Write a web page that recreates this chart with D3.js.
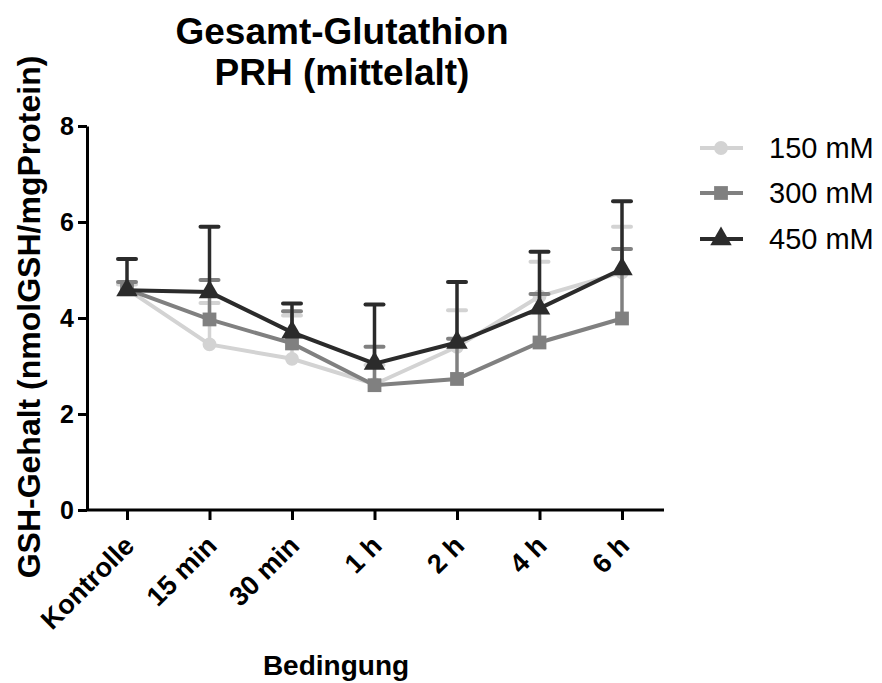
<!DOCTYPE html>
<html>
<head>
<meta charset="utf-8">
<script src="https://cdn.jsdelivr.net/npm/d3@7"></script>
<style>
  body { margin: 0; background: #fff; }
  svg { font-family: "Liberation Sans", Arial, sans-serif; }
</style>
</head>
<body>
<script>
// Gesamt-Glutathion, PRH (mittelalt)
const conditions = ["Kontrolle", "15 min", "30 min", "1 h", "2 h", "4 h", "6 h"];
const yTicks = [0, 2, 4, 6, 8];

const series = ["150 mM", "300 mM", "450 mM"];
const mean150 = [4.60, 3.45, 3.15, 2.62, 3.40, 4.45, 4.95];
const sd150   = [0.10, 0.86, 0.90, 0.40, 0.76, 0.72, 0.95];
const mean300 = [4.60, 3.97, 3.47, 2.60, 2.73, 3.49, 3.99];
const sd300   = [0.15, 0.82, 0.67, 0.80, 0.84, 1.01, 1.45];
const mean450 = [4.58, 4.54, 3.70, 3.05, 3.49, 4.20, 5.02];
const sd450   = [0.65, 1.36, 0.60, 1.23, 1.26, 1.18, 1.41];

const colors = ["#d3d3d3", "#808080", "#2b2b2b"];
const symbols = [d3.symbolCircle, d3.symbolSquare, d3.symbolTriangle];
const symSizes = [150, 190, 200];

const data = [
  { name: series[0], mean: mean150, sd: sd150 },
  { name: series[1], mean: mean300, sd: sd300 },
  { name: series[2], mean: mean450, sd: sd450 }
];

const width = 882, height = 683;
const svg = d3.select("body").append("svg")
    .attr("width", width)
    .attr("height", height);

const x = d3.scalePoint()
    .domain(conditions)
    .range([127, 622]);

const y = d3.scaleLinear()
    .domain([0, 8])
    .range([510, 126]);

// axes
const xAxis = svg.append("g")
    .attr("transform", "translate(0,510)")
    .call(d3.axisBottom(x).tickSize(10).tickSizeOuter(0).tickPadding(6));
xAxis.select(".domain").attr("d", "M87,0H664");
xAxis.selectAll("line").attr("stroke", "#000").attr("stroke-width", 3);
xAxis.select(".domain").attr("stroke", "#000").attr("stroke-width", 3);
xAxis.selectAll("text")
    .attr("font-size", 27)
    .attr("font-weight", "bold")
    .attr("fill", "#000")
    .attr("text-anchor", "end")
    .attr("dy", null)
    .attr("transform", "translate(-3,26) rotate(-45)");

const yAxis = svg.append("g")
    .attr("transform", "translate(87,0)")
    .call(d3.axisLeft(y).tickValues(yTicks).tickSize(9).tickSizeOuter(0).tickPadding(4));
yAxis.select(".domain").attr("stroke", "#000").attr("stroke-width", 3);
yAxis.selectAll("line").attr("stroke", "#000").attr("stroke-width", 3);
yAxis.selectAll("text")
    .attr("font-size", 25)
    .attr("font-weight", "bold")
    .attr("fill", "#000");

// error bars (upper only), then lines and markers
data.forEach((s, i) => {
  const g = svg.append("g");
  const up = s.mean.map((m, j) => ({ c: conditions[j], m: m, u: m + s.sd[j] }));

  g.selectAll(".err")
    .data(up)
    .enter()
    .append("line")
    .attr("x1", d => x(d.c))
    .attr("x2", d => x(d.c))
    .attr("y1", d => y(d.m))
    .attr("y2", d => y(d.u))
    .attr("stroke", colors[i])
    .attr("stroke-width", 3.5);

  g.selectAll(".cap")
    .data(up)
    .enter()
    .append("line")
    .attr("x1", d => x(d.c) - 9)
    .attr("x2", d => x(d.c) + 9)
    .attr("y1", d => y(d.u))
    .attr("y2", d => y(d.u))
    .attr("stroke", colors[i])
    .attr("stroke-width", 4)
    .attr("stroke-linecap", "round");

  const line = d3.line()
      .x(d => x(d.c))
      .y(d => y(d.m));

  g.append("path")
    .datum(up)
    .attr("d", line)
    .attr("fill", "none")
    .attr("stroke", colors[i])
    .attr("stroke-width", 4);

  g.selectAll(".pt")
    .data(up)
    .enter()
    .append("path")
    .attr("d", d3.symbol().type(symbols[i]).size(symSizes[i]))
    .attr("transform", d => `translate(${x(d.c)},${y(d.m)})`)
    .attr("fill", colors[i]);
});

// titles
const title = svg.append("text")
    .attr("x", 342)
    .attr("y", 44)
    .attr("text-anchor", "middle")
    .attr("font-size", 37)
    .attr("font-weight", "bold");
title.append("tspan").attr("x", 342).text("Gesamt-Glutathion");
title.append("tspan").attr("x", 342).attr("dy", 41).text("PRH (mittelalt)");

svg.append("text")
    .attr("x", 336)
    .attr("y", 675)
    .attr("text-anchor", "middle")
    .attr("font-size", 28)
    .attr("font-weight", "bold")
    .text("Bedingung");

svg.append("text")
    .attr("transform", "translate(40,317) rotate(-90)")
    .attr("text-anchor", "middle")
    .attr("font-size", 32)
    .attr("font-weight", "bold")
    .text("GSH-Gehalt (nmolGSH/mgProtein)");

// legend
const legend = svg.append("g");
const legendY = [148, 193, 239];
data.forEach((s, i) => {
  const row = legend.append("g").attr("transform", `translate(0,${legendY[i]})`);
  row.append("line")
    .attr("x1", 700).attr("x2", 743)
    .attr("stroke", colors[i])
    .attr("stroke-width", 4);
  row.append("path")
    .attr("d", d3.symbol().type(symbols[i]).size(symSizes[i]))
    .attr("transform", "translate(721,0)")
    .attr("fill", colors[i]);
  row.append("text")
    .attr("x", 769)
    .attr("y", 0)
    .attr("dy", "0.36em")
    .attr("font-size", 29)
    .text(s.name);
});
</script>
</body>
</html>
